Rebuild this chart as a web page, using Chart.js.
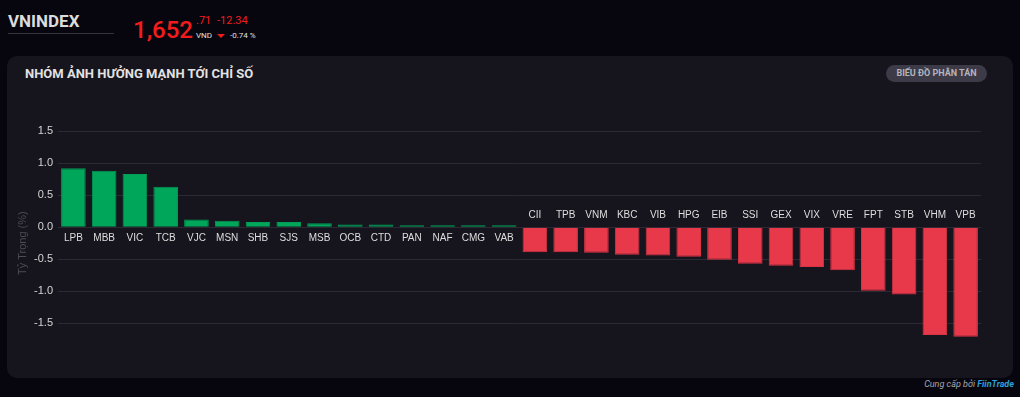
<!DOCTYPE html>
<html>
<head>
<meta charset="utf-8">
<script src="https://cdn.jsdelivr.net/npm/chart.js@4"></script>
<style>
  html, body { margin: 0; padding: 0; background: #07060f; width: 1020px; height: 397px; overflow: hidden; font-family: Roboto, "Liberation Sans", sans-serif; }
  .hdr { position: absolute; left: 8px; top: 10px; width: 106px; height: 23px; border-bottom: 1px solid #34333f; color: #dcdcdc; font-weight: bold; font-size: 17px; line-height: 22px; }
  .price { position: absolute; left: 133px; top: 15px; color: #f21c1c; font-size: 24px; font-weight: 500; line-height: 30px; }
  .dec { position: absolute; left: 196px; top: 14px; color: #f21c1c; font-size: 11px; }
  .vnd { position: absolute; left: 196px; top: 31px; color: #e0e0e0; font-size: 8px; }
  .chg { position: absolute; left: 217px; top: 14px; color: #f21c1c; font-size: 11px; }
  .tri { position: absolute; left: 217px; top: 34px; width: 0; height: 0; border-left: 4px solid transparent; border-right: 4px solid transparent; border-top: 4px solid #f21c1c; }
  .pct { position: absolute; left: 230px; top: 31px; color: #e0e0e0; font-size: 8px; }
  .card { position: absolute; left: 7px; top: 56px; width: 1006px; height: 322px; background: #16141d; border-radius: 10px; }
  .title { position: absolute; left: 18px; top: 10px; color: #e2e2e2; font-weight: bold; font-size: 13px; }
  .btn { position: absolute; left: 879px; top: 9px; width: 101px; height: 17px; border-radius: 9px; background: #3c3b47; color: #b4b4bc; font-size: 9px; font-weight: bold; text-align: center; line-height: 17px; }
  .wrap { position: absolute; left: 0; top: 61px; width: 1006px; height: 250px; }
  .foot { position: absolute; right: 6px; top: 379px; font-size: 9px; font-style: italic; color: #a8a8b0; }
  .foot b { color: #2b9fd9; }
</style>
</head>
<body>
<div class="hdr">VNINDEX</div>
<div class="price">1,652</div>
<div class="dec">.71</div>
<div class="vnd">VND</div>
<div class="chg">-12.34</div>
<div class="tri"></div>
<div class="pct">-0.74 %</div>
<div class="card">
  <div class="title">NHÓM ẢNH HƯỞNG MẠNH TỚI CHỈ SỐ</div>
  <div class="btn">BIỂU ĐỒ PHÂN TÁN</div>
  <div class="wrap"><canvas id="chartImpact"></canvas></div>
</div>
<div class="foot">Cung cấp bởi <b>FiinTrade</b></div>
<script>
const tickers = ["LPB", "MBB", "VIC", "TCB", "VJC", "MSN", "SHB", "SJS", "MSB", "OCB", "CTD", "PAN", "NAF", "CMG", "VAB",
  "CII", "TPB", "VNM", "KBC", "VIB", "HPG", "EIB", "SSI", "GEX", "VIX", "VRE", "FPT", "STB", "VHM", "VPB"];
const weights = [0.92, 0.88, 0.83, 0.63, 0.12, 0.10, 0.08, 0.08, 0.06, 0.04, 0.04, 0.03, 0.03, 0.03, 0.03,
  -0.39, -0.39, -0.40, -0.43, -0.44, -0.46, -0.51, -0.57, -0.60, -0.62, -0.67, -0.99, -1.05, -1.68, -1.71];
const yTicks = [1.5, 1.0, 0.5, 0.0, -0.5, -1.0, -1.5];

const GREEN = "#00a65a";
const RED = "#e8394a";

// ticker names sit on the zero line, on the side opposite to the bar
const tickerLabels = {
  id: "tickerLabels",
  afterDatasetsDraw(chart) {
    const { ctx, scales: { x, y } } = chart;
    const zero = y.getPixelForValue(0);
    ctx.save();
    ctx.font = "10px 'Liberation Sans', Arial, sans-serif";
    ctx.fillStyle = "#dedede";
    ctx.textAlign = "center";
    ctx.textBaseline = "middle";
    tickers.forEach((t, i) => {
      const px = x.getPixelForValue(i);
      const py = weights[i] >= 0 ? zero + 11 : zero - 12;
      ctx.fillText(t, px, py);
    });
    ctx.restore();
  },
};

new Chart(document.getElementById("chartImpact"), {
  type: "bar",
  data: {
    labels: tickers,
    datasets: [{
      data: weights,
      backgroundColor: weights.map((v) => (v >= 0 ? GREEN : RED)),
      borderColor: weights.map((v) => (v >= 0 ? "#029c55" : "#d93444")),
      borderWidth: 1,
      borderSkipped: "start",
      barPercentage: 0.8,
      categoryPercentage: 1,
    }],
  },
  options: {
    responsive: true,
    maintainAspectRatio: false,
    animation: false,
    layout: { padding: { left: 5, right: 32, top: 14, bottom: 10 } },
    plugins: { legend: { display: false }, tooltip: { enabled: false } },
    scales: {
      x: { display: false },
      y: {
        min: -2,
        max: 1.5,
        afterBuildTicks: (scale) => { scale.ticks = yTicks.map((v) => ({ value: v })); },
        afterFit: (scale) => { scale.width = 46; },
        border: { display: false },
        grid: { color: "#2b2933", drawTicks: false },
        ticks: {
          padding: 5,
          color: "#d6d6d6",
          font: { family: "'Liberation Sans', Arial, sans-serif", size: 11 },
          callback: (v) => Number(v).toFixed(1),
        },
        title: {
          display: true,
          text: "Tỷ Trọng (%)",
          color: "#4d4b57",
          font: { family: "'Liberation Sans', Arial, sans-serif", size: 11 },
        },
      },
    },
  },
  plugins: [tickerLabels],
});
</script>
</body>
</html>
